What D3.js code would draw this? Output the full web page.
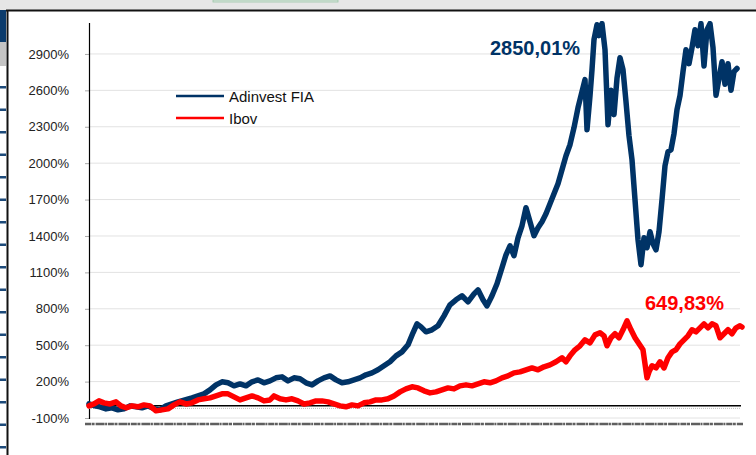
<!DOCTYPE html>
<html>
<head>
<meta charset="utf-8">
<script src="https://cdn.jsdelivr.net/npm/d3@7"></script>
<style>
  body { margin: 0; background: #fff; }
  text { font-family: Arial, "Liberation Sans", sans-serif; }
</style>
</head>
<body>
<script>
const width = 756;
const height = 455;

// time index (observation number) and cumulative return in %
const adinvestT = [0,6,11,17,23,29,35,41,47,53,59,66,71,77,83,89,96,103,109,115,121,127,133,139,145,151,157,163,169,175,181,187,193,199,205,211,217,223,229,235,241,247,253,259,265,271,277,283,289,295,301,307,313,319,324,328,332,337,343,349,355,361,367,373,379,385,389,394,398,403,408,413,417,421,425,429,433,437,441,445,449,453,457,461,465,469,473,477,481,485,489,493,496,498,501,503,505,508,510,513,516,519,522,525,528,531,534,537,540,543,546,549,552,555,558,561,564,567,570,573,576,579,582,585,588,591,594,597,600,603,606,609,612,615,618,621,624,627,630,633,636,639,642,645,648,651,653];
const adinvestV = [16,0,-8,-25,-16,-33,-25,0,-8,-16,0,-25,-33,0,16,33,49,66,82,99,132,173,198,190,165,181,165,198,214,190,206,231,239,206,231,223,190,173,206,231,247,214,190,198,214,231,256,272,297,330,363,412,445,503,602,676,651,610,627,660,742,833,874,907,857,923,956,874,824,907,1006,1138,1245,1319,1237,1385,1484,1633,1517,1402,1468,1517,1583,1665,1748,1830,1946,2061,2152,2292,2457,2589,2688,2276,2556,2770,3018,3141,3051,3150,2935,2317,2600,2400,2700,2869,2770,2507,2226,2028,1698,1369,1163,1385,1303,1435,1336,1286,1435,1698,1979,2094,2111,2243,2441,2556,2754,2935,2820,2952,3100,2968,3150,2800,3100,3150,2952,2560,2700,2836,2650,2820,2600,2754,2780];

const ibovT = [0,5,10,15,21,27,32,37,43,49,55,61,67,73,79,85,91,97,103,109,115,121,127,133,139,145,151,157,163,169,175,181,185,191,197,203,209,215,221,227,233,239,245,251,257,263,269,275,281,287,293,299,305,311,317,323,329,335,341,347,353,359,365,371,377,383,389,395,401,407,413,419,425,431,437,443,449,455,461,467,473,477,481,486,491,496,501,506,511,515,518,522,526,530,534,538,542,546,550,554,556,558,560,563,567,571,575,579,583,587,591,595,599,603,607,611,615,619,623,627,631,635,639,643,647,651,653];
const ibovV = [0,16,41,25,16,33,0,-16,0,-8,8,0,-41,-33,-25,8,33,16,25,49,58,66,82,99,99,74,49,66,82,66,41,49,82,58,49,58,41,16,25,41,41,33,16,0,-8,8,0,25,33,49,49,58,82,115,140,157,148,124,107,115,132,148,140,165,173,165,181,198,190,206,231,247,272,280,297,313,297,322,338,363,396,363,412,462,495,544,519,585,602,577,495,561,594,561,627,701,627,561,511,462,346,231,280,330,313,363,313,396,445,462,511,544,577,627,610,643,676,643,676,660,561,594,627,594,643,660,650];

const yTicks = [-100,200,500,800,1100,1400,1700,2000,2300,2600,2900];
const seriesNames = ['Adinvest FIA','Ibov'];
const seriesColors = ['#003366','#ff0000'];
const lastLabels = ['2850,01%','649,83%'];

const svg = d3.select('body').append('svg').attr('width',width).attr('height',height);

// ---- surrounding window frame ----
svg.append('rect').attr('x',0).attr('y',0).attr('width',width).attr('height',10).attr('fill','#e6e6e6');
svg.append('rect').attr('x',213).attr('y',0).attr('width',125).attr('height',2).attr('fill','#dbe7de').attr('stroke','#9cc5a8').attr('stroke-width',0.8);
svg.append('line').attr('x1',6).attr('x2',width).attr('y1',10.5).attr('y2',10.5).attr('stroke','#111').attr('stroke-width',2);
svg.append('rect').attr('x',0).attr('y',10).attr('width',6).attr('height',32).attr('fill','#0b3b6c');
svg.append('rect').attr('x',0).attr('y',42).attr('width',6).attr('height',24).attr('fill','#c4c4c4');
const sideTicks = d3.range(0,17);
svg.selectAll('.side').data(sideTicks).enter().append('rect')
  .attr('class','side').attr('x',0).attr('width',6).attr('height',2.5)
  .attr('y',d=>86 + d*22.5).attr('fill','#1d4a7a');
svg.append('line').attr('x1',7.5).attr('x2',7.5).attr('y1',10).attr('y2',height).attr('stroke','#111').attr('stroke-width',2);

// ---- chart ----
const x = d3.scaleLinear().domain([0,652]).range([89,741]);
const y = d3.scaleLinear().domain([-100,3155]).range([418,23]);

const g = svg.append('g');

g.selectAll('.grid').data(yTicks).enter().append('line')
  .attr('class','grid').attr('x1',89).attr('x2',740)
  .attr('y1',d=>y(d)).attr('y2',d=>y(d))
  .attr('stroke','#e2e2e2').attr('stroke-width',1);

const yAxis = g.append('g').attr('transform','translate(89,0)')
  .call(d3.axisLeft(y).tickValues(yTicks).tickSize(4).tickPadding(16).tickFormat(d=>d+'%'));
yAxis.select('.domain').remove();
yAxis.selectAll('.tick line').attr('stroke','#aaa');
yAxis.selectAll('.tick text').attr('font-size',13).attr('fill','#222').attr('font-family','Arial, "Liberation Sans", sans-serif');
g.append('line').attr('x1',89.5).attr('x2',89.5).attr('y1',23).attr('y2',419).attr('stroke','#000').attr('stroke-width',1.2);

// zero line and dotted helper
g.append('line').attr('x1',89).attr('x2',741).attr('y1',y(0)).attr('y2',y(0)).attr('stroke','#000').attr('stroke-width',1.5);
g.append('line').attr('x1',89).attr('x2',741).attr('y1',y(0)+2.5).attr('y2',y(0)+2.5)
  .attr('stroke','#bbb').attr('stroke-width',1).attr('stroke-dasharray','1,1');

// squeezed date labels (unreadable smear)
g.append('line').attr('x1',85).attr('x2',743).attr('y1',424).attr('y2',424)
  .attr('stroke','#444').attr('stroke-width',2.4).attr('stroke-dasharray','6,0.6,3,1,9,0.5,2,0.8').attr('opacity',0.85);

svg.append('clipPath').attr('id','clip').append('rect')
  .attr('x',85).attr('y',21).attr('width',665).attr('height',410);

const line = d3.line().x(d=>x(d[0])).y(d=>y(d[1]));
const series = [d3.zip(adinvestT, adinvestV), d3.zip(ibovT, ibovV)];

g.selectAll('.series').data(series).enter().append('path')
  .attr('class','series')
  .attr('clip-path','url(#clip)')
  .attr('d',line)
  .attr('fill','none')
  .attr('stroke',(d,i)=>seriesColors[i])
  .attr('stroke-width',5.5)
  .attr('stroke-linejoin','round')
  .attr('stroke-linecap','round');

// legend
const legend = g.selectAll('.legend').data(seriesNames).enter().append('g')
  .attr('class','legend')
  .attr('transform',(d,i)=>'translate(176,' + (96 + i*22) + ')');
legend.append('line').attr('x1',0).attr('x2',48).attr('stroke',(d,i)=>seriesColors[i]).attr('stroke-width',2.5);
legend.append('text').attr('x',53).attr('y',6).attr('font-size',15).attr('fill','#111').text(d=>d);

// end-value labels
g.append('text').attr('x',490).attr('y',55).attr('font-size',20).attr('font-weight','bold')
  .attr('fill',seriesColors[0]).text(lastLabels[0]);
g.append('text').attr('x',645).attr('y',310).attr('font-size',20).attr('font-weight','bold')
  .attr('fill',seriesColors[1]).text(lastLabels[1]);
</script>
</body>
</html>
